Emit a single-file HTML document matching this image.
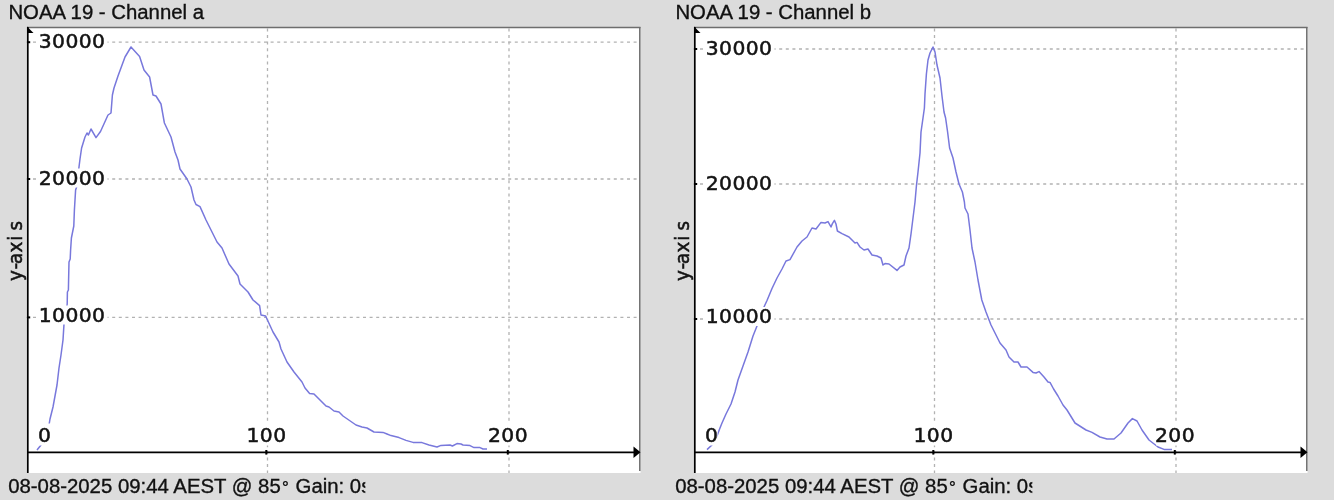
<!DOCTYPE html>
<html><head><meta charset="utf-8"><title>NOAA 19 histograms</title>
<style>
html,body{margin:0;padding:0;background:#dcdcdc;overflow:hidden}
svg{display:block}
.tk{font-family:"DejaVu Sans","Liberation Sans",sans-serif;font-size:20.3px;letter-spacing:0.45px;fill:#141414;stroke:#141414;stroke-width:0.55px}
.tt{font-family:"Liberation Sans",sans-serif;font-size:20.35px;fill:#111;stroke:#111;stroke-width:0.35px}
</style></head><body>
<svg width="1334" height="500" viewBox="0 0 1334 500">
<rect width="1334" height="500" fill="#dcdcdc"/>
<rect x="27" y="27" width="613.5" height="446" fill="#fff"/>
<line x1="26.4" x2="640" y1="42.2" y2="42.2" stroke="#b2b2b2" stroke-width="1.3" stroke-dasharray="3 3.6"/>
<line x1="26.4" x2="640" y1="179" y2="179" stroke="#b2b2b2" stroke-width="1.3" stroke-dasharray="3 3.6"/>
<line x1="26.4" x2="640" y1="317.4" y2="317.4" stroke="#b2b2b2" stroke-width="1.3" stroke-dasharray="3 3.6"/>
<line x1="267.5" x2="267.5" y1="28.4" y2="473" stroke="#b2b2b2" stroke-width="1.3" stroke-dasharray="3 3.6"/>
<line x1="509" x2="509" y1="28.4" y2="473" stroke="#b2b2b2" stroke-width="1.3" stroke-dasharray="3 3.6"/>
<polyline points="37,450 41,445 45,436 49,425 50,419 53,407 57,385 59,368 61,355 63,340 64,324 66,312 67.2,304 67.4,292 68.4,290 68.6,280 69,262 70.2,259 70.6,250 71.4,238 72.6,232 73.8,226 74.4,210 75.6,190 77,186 78,176 79,167 80,159 81.6,148 85,137 87,133 88.4,135 91,129 96,137.6 100.5,131.5 108,115 111,113 112.4,95 114,88 118,76 125,57 131,47 139.6,56.4 144,70 149.6,77 153,95 156,96 161,104 164.4,123 171,137 175,152 178,160 180,169 187,179 191,187 194,200 196,204.5 200,206.6 206,220 211,230 217,242 222,248 229,264 238,276 240,284 248,292 253,300 259.6,305.6 261,315 265.6,316 273,332 279,342 281,349 287,362 294,372 302,382 305,388 309.6,393.6 314,394 326,406 329,407 334,411 339,412 343,416 356,425 362,427 367,428 374,432 383,432.4 387,434 391,435.6 399,437.6 406,440.4 413,442.4 422,442.6 429,445 437,447 441,445.4 450,445 452.4,446 457,443.6 461,444 463,445 470,445.6 474,447.6 480,447.6 483,449 487,449" fill="none" stroke="#7878dc" stroke-width="1.5" stroke-linejoin="round"/>
<line x1="27" x2="640.5" y1="27.5" y2="27.5" stroke="#6e6e6e" stroke-width="1.6"/>
<line x1="639.8" x2="639.8" y1="27" y2="471" stroke="#6e6e6e" stroke-width="1.5"/>
<line x1="27.8" x2="27.8" y1="27" y2="473" stroke="#000" stroke-width="1.7"/>
<line x1="27" x2="636" y1="452.3" y2="452.3" stroke="#000" stroke-width="1.7"/>
<polygon points="633.5,446.5 633.5,458 640.5,452.3" fill="#000"/>
<polygon points="27,26.5 33.5,33 27,33" fill="#000"/>
<rect x="28" y="41.2" width="2.2" height="2" fill="#000"/>
<rect x="28" y="178" width="2.2" height="2" fill="#000"/>
<rect x="28" y="316.4" width="2.2" height="2" fill="#000"/>
<rect x="265.3" y="450" width="2" height="4.6" fill="#000"/>
<rect x="506.8" y="450" width="2" height="4.6" fill="#000"/>
<rect x="37" y="32" width="70.5" height="19" fill="#fff"/>
<text class="tk" x="38.7" y="48.3">30000</text>
<rect x="37" y="168.5" width="70.5" height="19" fill="#fff"/>
<text class="tk" x="38.7" y="184.8">20000</text>
<rect x="37" y="305.5" width="70.5" height="19" fill="#fff"/>
<text class="tk" x="38.7" y="321.8">10000</text>
<rect x="39" y="423.5" width="11.5" height="22" fill="#fff"/>
<text class="tk" x="38" y="441.6">0</text>
<rect x="247.5" y="423.5" width="38.5" height="22" fill="#fff"/>
<text class="tk" x="246.5" y="441.6">100</text>
<rect x="489" y="423.5" width="38.5" height="22" fill="#fff"/>
<text class="tk" x="488" y="441.6">200</text>
<text class="tk" transform="translate(21.9,280.95) rotate(-90) scale(0.9,1)" x="0 12.7 18.9 31.7 44.6 56.1" y="0" style="letter-spacing:0">y-axis</text>
<text class="tt" x="8.4" y="19.1">NOAA 19 - Channel a</text>
<svg x="0" y="474" width="365.3" height="26" overflow="hidden"><text class="tt" x="8.2" y="19.4">08-08-2025 09:44 AEST @ 85<tspan font-size="17px" dx="1.2">°</tspan><tspan dx="1.2"> Gain: 0s</tspan></text></svg>
<rect x="694" y="27" width="613.5" height="446" fill="#fff"/>
<line x1="693.4" x2="1307" y1="49" y2="49" stroke="#b2b2b2" stroke-width="1.3" stroke-dasharray="3 3.6"/>
<line x1="693.4" x2="1307" y1="184" y2="184" stroke="#b2b2b2" stroke-width="1.3" stroke-dasharray="3 3.6"/>
<line x1="693.4" x2="1307" y1="319" y2="319" stroke="#b2b2b2" stroke-width="1.3" stroke-dasharray="3 3.6"/>
<line x1="934.5" x2="934.5" y1="28.4" y2="473" stroke="#b2b2b2" stroke-width="1.3" stroke-dasharray="3 3.6"/>
<line x1="1176" x2="1176" y1="28.4" y2="473" stroke="#b2b2b2" stroke-width="1.3" stroke-dasharray="3 3.6"/>
<polyline points="707,449.6 713,444 717,436 719.6,429 722,423 726,414 731,404 735,392 738,380 743,366 748,352 753,336 757,326 761,315 764,307 767,300.5 772,288.5 777,278 782,269 786,261 790,259.6 797,247 802,241 807,237 812,228 816,229 821,222.4 825,223 828,221.6 831,227 832.4,223.6 834.4,220.4 836,224 837.4,231 842,233.6 849,237 855,243 857,242.4 860,247 864,250 868,249 872,255 877,256 881,258 883,265 885,263.6 889,264 897,270.4 900,267 904,265 906,256 909,248 911,234 913,218 915,202 916.4,186 918,172 920,153 921,132 923,118 924.4,108 925,94 926.4,74 928,60 930,53 933,47 935,52 937,65 940,78 942,96 944,112 945.6,118 947.6,132 949.6,148 953,158 956,172 959,184 962.4,192 964.4,202 965,208 968,214 970,230 972,248 975,262 978,280 981.8,300 986,312 991,325 995,333 1000,343 1006,350 1009,357 1014,362 1018,362 1021,367 1027,367 1033,372.4 1036,373 1039,371.6 1044,377 1048,382 1050,382.4 1053.6,389 1058,396 1063,405 1067,410 1075,423 1086,430 1092,432.4 1100,437 1107,439 1114,439 1121,433 1128,423 1132.4,418.6 1137,421 1142,430 1149,440 1158,447 1164,449.4 1172,449.4" fill="none" stroke="#7878dc" stroke-width="1.5" stroke-linejoin="round"/>
<line x1="694" x2="1307.5" y1="27.5" y2="27.5" stroke="#6e6e6e" stroke-width="1.6"/>
<line x1="1306.8" x2="1306.8" y1="27" y2="471" stroke="#6e6e6e" stroke-width="1.5"/>
<line x1="694.8" x2="694.8" y1="27" y2="473" stroke="#000" stroke-width="1.7"/>
<line x1="694" x2="1303" y1="452.3" y2="452.3" stroke="#000" stroke-width="1.7"/>
<polygon points="1300.5,446.5 1300.5,458 1307.5,452.3" fill="#000"/>
<polygon points="694,26.5 700.5,33 694,33" fill="#000"/>
<rect x="695" y="48" width="2.2" height="2" fill="#000"/>
<rect x="695" y="183" width="2.2" height="2" fill="#000"/>
<rect x="695" y="318" width="2.2" height="2" fill="#000"/>
<rect x="932.3" y="450" width="2" height="4.6" fill="#000"/>
<rect x="1173.8" y="450" width="2" height="4.6" fill="#000"/>
<rect x="704" y="38.4" width="70.5" height="19" fill="#fff"/>
<text class="tk" x="705.7" y="54.699999999999996">30000</text>
<rect x="704" y="173.5" width="70.5" height="19" fill="#fff"/>
<text class="tk" x="705.7" y="189.8">20000</text>
<rect x="704" y="307" width="70.5" height="19" fill="#fff"/>
<text class="tk" x="705.7" y="323.3">10000</text>
<rect x="706" y="423.5" width="11.5" height="22" fill="#fff"/>
<text class="tk" x="705" y="441.6">0</text>
<rect x="914.5" y="423.5" width="38.5" height="22" fill="#fff"/>
<text class="tk" x="913.5" y="441.6">100</text>
<rect x="1156" y="423.5" width="38.5" height="22" fill="#fff"/>
<text class="tk" x="1155" y="441.6">200</text>
<text class="tk" transform="translate(688.9,280.95) rotate(-90) scale(0.9,1)" x="0 12.7 18.9 31.7 44.6 56.1" y="0" style="letter-spacing:0">y-axis</text>
<text class="tt" x="675.4" y="19.1">NOAA 19 - Channel b</text>
<svg x="667" y="474" width="365.3" height="26" overflow="hidden"><text class="tt" x="8.2" y="19.4">08-08-2025 09:44 AEST @ 85<tspan font-size="17px" dx="1.2">°</tspan><tspan dx="1.2"> Gain: 0s</tspan></text></svg>
</svg>
</body></html>
